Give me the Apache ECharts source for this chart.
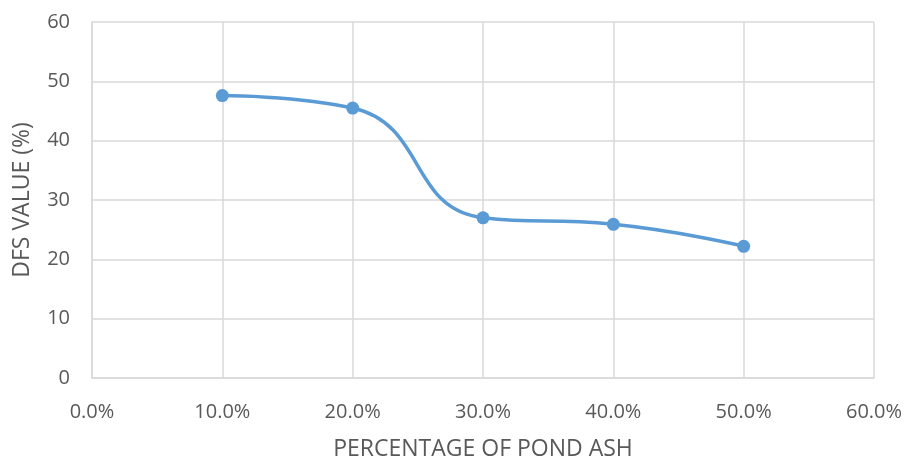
<!DOCTYPE html>
<html>
<head>
<meta charset="utf-8">
<script src="https://cdn.jsdelivr.net/npm/echarts@6/dist/echarts.min.js"></script>
<style>html,body{margin:0;padding:0;background:#fff;}#c{width:908px;height:461px;}</style>
</head>
<body>
<div id="c"></div>
<script>
var pondAshPct = [10, 20, 30, 40, 50];
var dfsValue = [47.6, 45.5, 27.0, 25.9, 22.2];
var xTicks = [0, 10, 20, 30, 40, 50, 60];
var yTicks = [0, 10, 20, 30, 40, 50, 60];
var xTitle = 'PERCENTAGE OF POND ASH';
var yTitle = 'DFS VALUE (%)';

var font = '"Open Sans", "Liberation Sans", sans-serif';
var txt = '#595959';
var gridCol = '#d9d9d9';
var chart = echarts.init(document.getElementById('c'), null, {renderer: 'canvas'});
chart.setOption({
  animation: false,
  backgroundColor: '#fff',
  grid: {left: 92, right: 34, top: 22, bottom: 83, containLabel: false, outerBoundsMode: 'none'},
  xAxis: {
    type: 'value',
    min: xTicks[0], max: xTicks[xTicks.length - 1], interval: 10,
    name: xTitle, nameLocation: 'middle', nameGap: 60,
    nameTextStyle: {color: txt, fontSize: 23, fontFamily: font},
    axisLine: {show: true, lineStyle: {color: gridCol, width: 1.5}},
    axisTick: {show: false},
    axisLabel: {color: txt, fontSize: 20, fontFamily: font, margin: 24,
      formatter: function (v) { return v.toFixed(1) + '%'; }},
    splitLine: {show: true, lineStyle: {color: gridCol, width: 1.5}}
  },
  yAxis: {
    type: 'value',
    min: yTicks[0], max: yTicks[yTicks.length - 1], interval: 10,
    name: yTitle, nameLocation: 'middle', nameGap: 58,
    nameTextStyle: {color: txt, fontSize: 23, fontFamily: font},
    axisLine: {show: true, lineStyle: {color: gridCol, width: 1.5}},
    axisTick: {show: false},
    axisLabel: {color: txt, fontSize: 20, fontFamily: font, margin: 22},
    splitLine: {show: true, lineStyle: {color: gridCol, width: 1.5}}
  },
  series: [{
    type: 'line',
    data: pondAshPct.map(function (x, i) { return [x, dfsValue[i]]; }),
    smooth: 0.5,
    symbol: 'circle',
    symbolSize: 13,
    lineStyle: {color: '#5B9BD5', width: 3.5},
    itemStyle: {color: '#5B9BD5'}
  }]
});
</script>
</body>
</html>
